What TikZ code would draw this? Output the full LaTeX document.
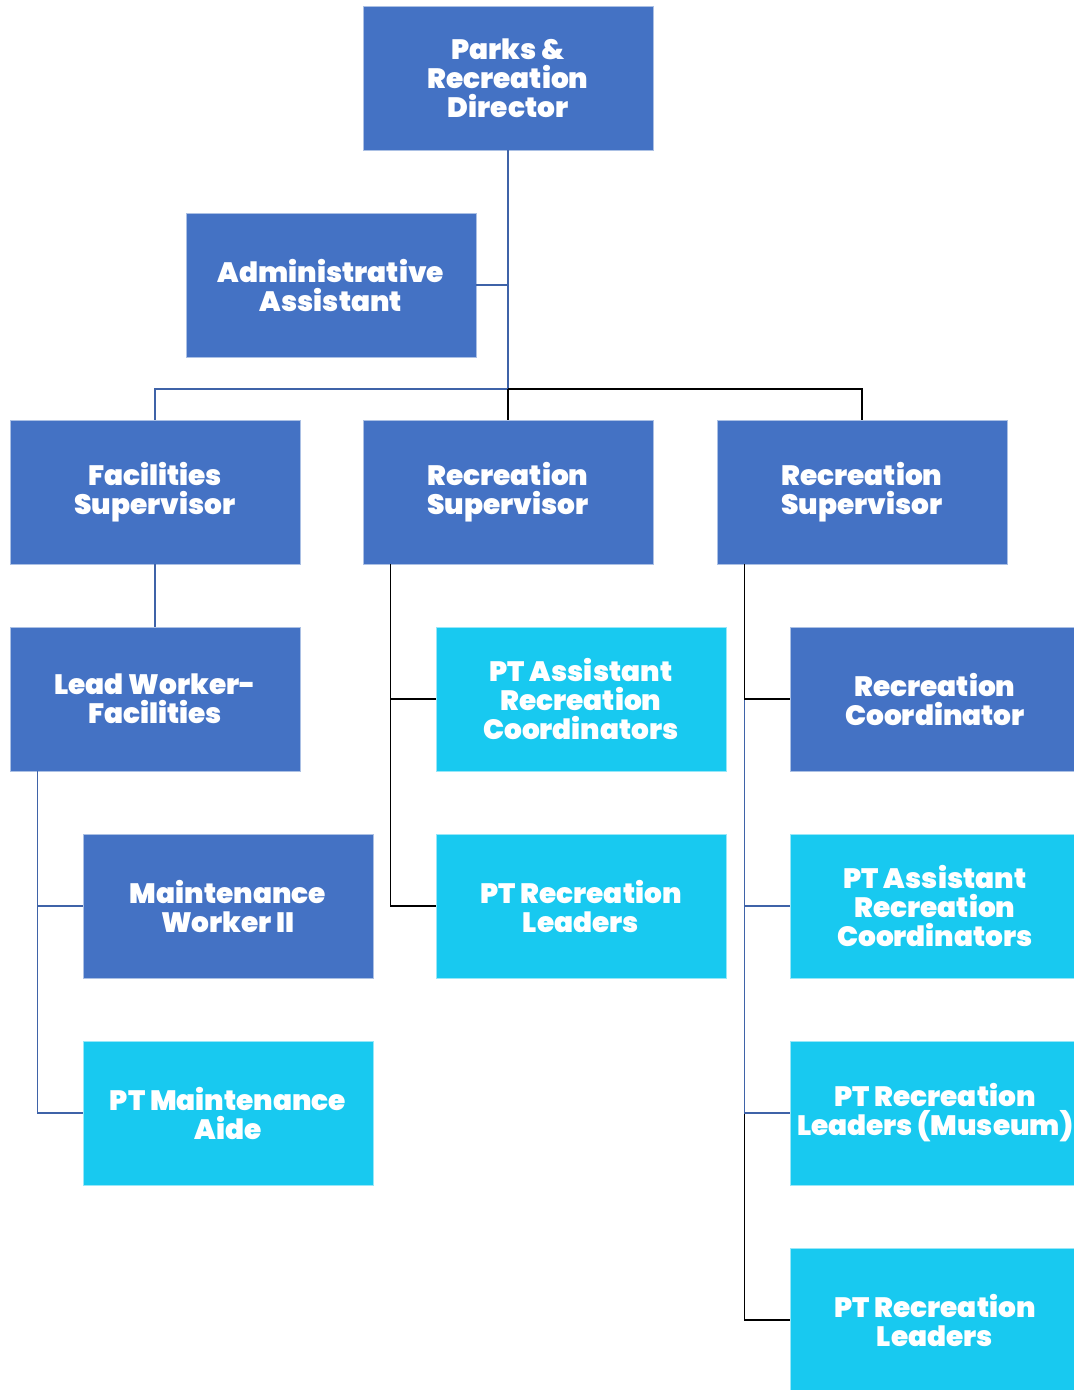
\documentclass[tikz,border=0pt]{standalone}
\usepackage{fontspec}
\setmainfont{Poppins}[BoldFont={Poppins Black}]
\usetikzlibrary{positioning}
\definecolor{boxblue}{RGB}{68,114,196}
\definecolor{boxcyan}{RGB}{24,201,240}
\definecolor{linkblue}{RGB}{63,99,168}

\begin{document}
\begin{tikzpicture}[x=0.75pt, y=-0.75pt, node distance=155.25pt, on grid,
  role/.style={rectangle, minimum width=217.5pt, minimum height=108pt,
    text=white, font=\bfseries\fontsize{21}{21.75}\selectfont, align=center,
    line width=0.6pt, inner sep=0pt},
  staff/.style={role, fill=boxblue, draw=white!55!boxblue},
  parttime/.style={role, fill=boxcyan, draw=white!55!boxcyan},
  bluelink/.style={draw=linkblue, line width=1.3pt},
  blacklink/.style={draw=black, line width=1.3pt}]
  \useasboundingbox (0,0) rectangle (1074,1390);
  \clip (0,0) rectangle (1074,1390);

  \node[staff] (dir) at (508,78) {Parks \&\\Recreation\\Director};
  \node[staff] (admin) [below left=155.25pt and 132.75pt of dir] {Administrative\\Assistant};
  \node[staff] (rs1) [below=310.5pt of dir] {Recreation\\Supervisor};
  \node[staff] (fac) [left=264.75pt of rs1] {Facilities\\Supervisor};
  \node[staff] (rs2) [right=265.5pt of rs1] {Recreation\\Supervisor};

  \node[staff] (lead) [below=of fac] {Lead Worker-\\Facilities};
  \node[staff] (mw) [below right=155.25pt and 54.75pt of lead] {Maintenance\\Worker II};
  \node[parttime] (aide) [below=of mw] {PT Maintenance\\Aide};

  \node[parttime] (pac1) [below right=155.25pt and 54.75pt of rs1] {PT Assistant\\Recreation\\Coordinators};
  \node[parttime] (prl1) [below=of pac1] {PT Recreation\\Leaders};

  \node[staff] (rc) [below right=155.25pt and 54.75pt of rs2] {Recreation\\Coordinator};
  \node[parttime] (pac2) [below=of rc] {PT Assistant\\Recreation\\Coordinators};
  \node[parttime] (mus) [below=of pac2] {PT Recreation\\Leaders (Museum)};
  \node[parttime] (prl2) [below=of mus] {PT Recreation\\Leaders};

  % top level
  \coordinate (bus) at (508,389);
  \draw[bluelink] (dir) -- (bus) -| (fac);
  \draw[bluelink] (admin.east) -- (admin.east -| dir.south);
  \draw[blacklink] (bus) -- (rs1);
  \draw[blacklink] (bus) -| (rs2);

  % facilities
  \draw[bluelink] (fac) -- (lead);
  \draw[bluelink] ([xshift=21pt]lead.south west) |- (mw.west);
  \draw[bluelink] ([xshift=21pt]lead.south west) |- (aide.west);

  % recreation
  \draw[blacklink] ([xshift=21pt]rs1.south west) |- (pac1.west);
  \draw[blacklink] ([xshift=21pt]rs1.south west) |- (prl1.west);
  \draw[blacklink] ([xshift=21pt]rs2.south west) |- (prl2.west);
  \draw[bluelink] ([xshift=21pt]rs2.south west) |- (mus.west);
  \draw[bluelink] ([xshift=21pt]rs2.south west) |- (pac2.west);
  \draw[blacklink] ([xshift=21pt]rs2.south west) |- (rc.west);
\end{tikzpicture}
\end{document}
